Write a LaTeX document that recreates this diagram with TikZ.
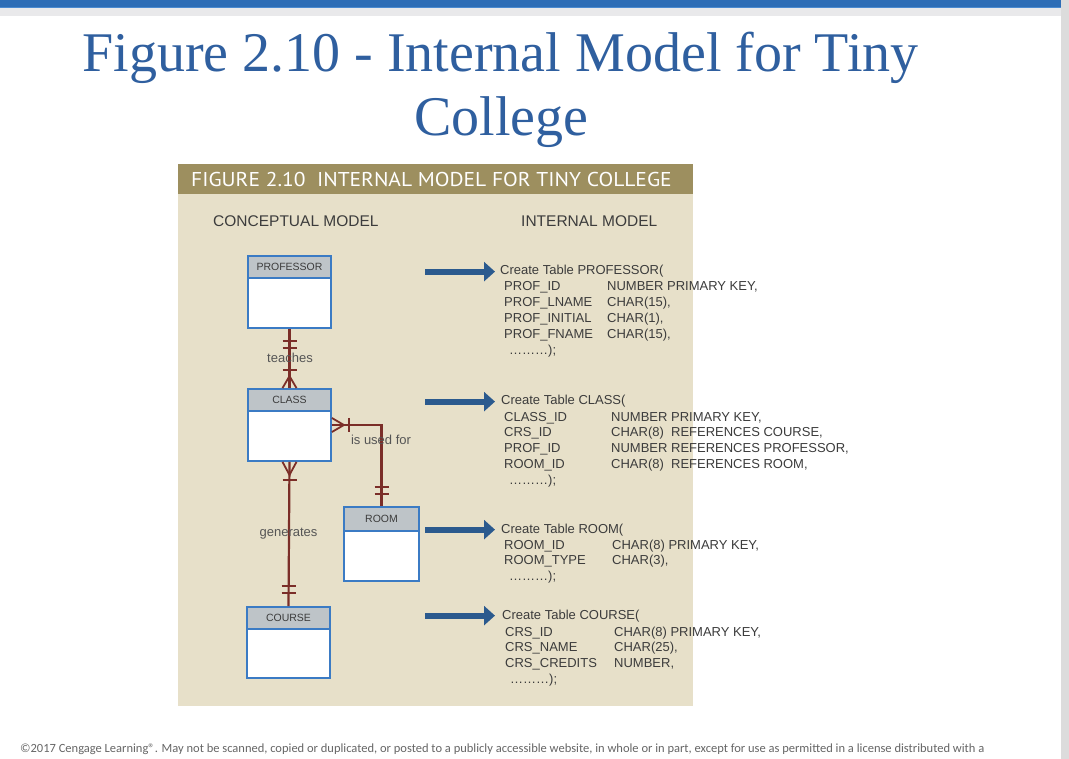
\documentclass[tikz,border=0pt]{standalone}
\usepackage{fontspec}
\setmainfont{Liberation Serif}
\newfontfamily\arialf{Liberation Sans}
\newfontfamily\ptsansf{PT Sans}
\newfontfamily\carlitof{Carlito}
\usetikzlibrary{arrows.meta}

\definecolor{topblue}{HTML}{2D6DB6}
\definecolor{toplight}{HTML}{4A8AD0}
\definecolor{bandgrey}{HTML}{E9E9EB}
\definecolor{edgegrey}{HTML}{DCDCDC}
\definecolor{titleblue}{HTML}{2F5F9F}
\definecolor{panelbg}{HTML}{E7E0C9}
\definecolor{panelhdr}{HTML}{9D8F5F}
\definecolor{entblue}{HTML}{3B7BC4}
\definecolor{enthdr}{HTML}{BEC4C8}
\definecolor{relred}{HTML}{7B2E28}
\definecolor{arrblue}{HTML}{2B5A8E}
\definecolor{txtgrey}{HTML}{3C3C3C}
\definecolor{lblgrey}{HTML}{555555}
\definecolor{footgrey}{HTML}{666666}

\begin{document}
\begin{tikzpicture}[x=1pt,y=-1pt,
  enthead/.style={draw=entblue, line width=1.8pt, fill=enthdr, inner sep=0pt,
    minimum width=83pt, minimum height=22pt, text=txtgrey,
    font=\arialf\fontsize{10.5}{12}\selectfont},
  entbody/.style={draw=entblue, line width=1.8pt, fill=white, inner sep=0pt,
    minimum width=83pt, minimum height=50pt},
  rel/.style={draw=relred, line width=2.2pt},
  relmark/.style={draw=relred, line width=1.8pt},
  rellabel/.style={inner sep=0pt, text=lblgrey, font=\arialf\fontsize{13}{15}\selectfont},
  sqlhead/.style={anchor=base west, inner sep=0pt, text=txtgrey,
    font=\arialf\fontsize{13}{15.8}\selectfont},
  sqlrows/.style={anchor=base west, inner sep=0pt, text=txtgrey,
    font=\arialf\fontsize{13}{15.9}\selectfont},
  sqlarrow/.style={draw=arrblue, line width=6pt, -{Triangle[length=11pt,width=19pt]}},
  colhead/.style={anchor=base west, inner sep=0pt, text=txtgrey,
    font=\arialf\fontsize{15.5}{18}\selectfont}
]
\useasboundingbox (0,0) rectangle (1069,759);
\fill[white] (0,0) rectangle (1069,759);

% window chrome
\fill[topblue] (0,0) rectangle (1061,8);
\fill[toplight] (0,7.5) rectangle (1061,8.5);
\fill[bandgrey] (0,8.5) rectangle (1061,16);
\fill[edgegrey] (1061,0) rectangle (1069,759);

% slide title
\node[anchor=base, inner sep=0pt, text=titleblue, font=\fontsize{56}{64}\selectfont]
  (title1) at (500.5,72) {Figure 2.10 - Internal Model for Tiny};
\node[anchor=base, inner sep=0pt, text=titleblue, font=\fontsize{56}{64}\selectfont]
  (title2) at (501.5,136) {College};

% figure panel
\fill[panelbg] (178,164) rectangle (693,706);
\fill[panelhdr] (178,164) rectangle (693,194);
\node[anchor=base west, inner sep=0pt, text=white, font=\ptsansf\fontsize{20}{22}\selectfont]
  (fighdr) at (191,186.5) {\scalebox{1.075}[1]{FIGURE 2.10\ \ INTERNAL MODEL FOR TINY COLLEGE}};

\node[colhead] (concept) at (213,227) {CONCEPTUAL MODEL};
\node[colhead] (internal) at (521,227) {INTERNAL MODEL};

% entities
\node[enthead] (profhead) at (289.5,267) {PROFESSOR};
\node[entbody] (profbody) at (289.5,303) {};
\node[enthead] (classhead) at (289.5,400) {CLASS};
\node[entbody] (classbody) at (289.5,436) {};
\node[enthead, minimum width=75pt, minimum height=24pt] (roomhead) at (381.5,519) {ROOM};
\node[entbody, minimum width=75pt] (roombody) at (381.5,556) {};
\node[enthead] (coursehead) at (288.5,618) {COURSE};
\node[entbody, minimum height=49pt] (coursebody) at (288.5,653.5) {};

% PROFESSOR teaches CLASS
\draw[rel] (profbody.south) -- (classhead.north);
\draw[relmark] ([shift={(-7,12)}]profbody.south) -- ++(14,0);
\draw[relmark] ([shift={(-7,19)}]profbody.south) -- ++(14,0);
\draw[relmark] ([shift={(-7,-18)}]classhead.north) -- ++(14,0);
\draw[relmark] ([shift={(-7,0)}]classhead.north) -- ([shift={(0,-12)}]classhead.north)
  -- ([shift={(7,0)}]classhead.north);
\node[rellabel] (teaches) at (290,358) {teaches};

% CLASS is used for ROOM
\coordinate (classout) at ([yshift=11pt]classbody.east);
\draw[rel] (classout) -| (roomhead.north);
\draw[relmark] ([shift={(0,-7)}]classout) -- ([shift={(12,0)}]classout)
  -- ([shift={(0,7)}]classout);
\draw[relmark] ([shift={(17,-7)}]classout) -- ++(0,14);
\draw[relmark] ([shift={(-7,-19)}]roomhead.north) -- ++(14,0);
\draw[relmark] ([shift={(-7,-12)}]roomhead.north) -- ++(14,0);
\node[rellabel] (usedfor) at (381,440) {is used for};

% CLASS generates COURSE
\draw[rel] (classbody.south) -- (coursehead.north);
\draw[relmark] ([shift={(-7,0)}]classbody.south) -- ([shift={(0,13)}]classbody.south)
  -- ([shift={(7,0)}]classbody.south);
\draw[relmark] ([shift={(-7,18)}]classbody.south) -- ++(14,0);
\draw[relmark] ([shift={(-7,-20)}]coursehead.north) -- ++(14,0);
\draw[relmark] ([shift={(-7,-13)}]coursehead.north) -- ++(14,0);
\node[rellabel] (generates) at (288.5,534) {generates};

% internal model: PROFESSOR
\node[sqlhead] (pcreate) at (500,275) {Create Table PROFESSOR(};
\node[sqlrows] (prows) at (504,291) {\begin{tabular}[t]{@{}p{103pt}@{}l@{}}
PROF\_ID & NUMBER PRIMARY KEY,\\
PROF\_LNAME & CHAR(15),\\
PROF\_INITIAL & CHAR(1),\\
PROF\_FNAME & CHAR(15),\\
\hspace{5pt}………); & \\
\end{tabular}};
\draw[sqlarrow] ([xshift=-75pt]pcreate.west) -- ([xshift=-5pt]pcreate.west);

% internal model: CLASS
\node[sqlhead] (ccreate) at (501,405) {Create Table CLASS(};
\node[sqlrows] (crows) at (504,421) {\begin{tabular}[t]{@{}p{107pt}@{}l@{}}
CLASS\_ID & NUMBER PRIMARY KEY,\\
CRS\_ID & CHAR(8)\ \ REFERENCES COURSE,\\
PROF\_ID & NUMBER REFERENCES PROFESSOR,\\
ROOM\_ID & CHAR(8)\ \ REFERENCES ROOM,\\
\hspace{5pt}………); & \\
\end{tabular}};
\draw[sqlarrow] ([xshift=-76pt]ccreate.west) -- ([xshift=-6pt]ccreate.west);

% internal model: ROOM
\node[sqlhead] (rcreate) at (501,533) {Create Table ROOM(};
\node[sqlrows] (rrows) at (504,549) {\begin{tabular}[t]{@{}p{108pt}@{}l@{}}
ROOM\_ID & CHAR(8) PRIMARY KEY,\\
ROOM\_TYPE & CHAR(3),\\
\hspace{5pt}………); & \\
\end{tabular}};
\draw[sqlarrow] ([xshift=-76pt]rcreate.west) -- ([xshift=-6pt]rcreate.west);

% internal model: COURSE
\node[sqlhead] (kcreate) at (502,619) {Create Table COURSE(};
\node[sqlrows] (krows) at (505,636) {\begin{tabular}[t]{@{}p{109pt}@{}l@{}}
CRS\_ID & CHAR(8) PRIMARY KEY,\\
CRS\_NAME & CHAR(25),\\
CRS\_CREDITS & NUMBER,\\
\hspace{5pt}………); & \\
\end{tabular}};
\draw[sqlarrow] ([xshift=-77pt]kcreate.west) -- ([xshift=-7pt]kcreate.west);

% copyright line
\node[anchor=base west, inner sep=0pt, text=footgrey, font=\carlitof\fontsize{12.5}{14}\selectfont]
  (footer) at (20,752.5) {©2017 Cengage Learning®. May not be scanned, copied or duplicated, or posted to a publicly accessible website, in whole or in part, except for use as permitted in a license distributed with a};
\end{tikzpicture}
\end{document}
